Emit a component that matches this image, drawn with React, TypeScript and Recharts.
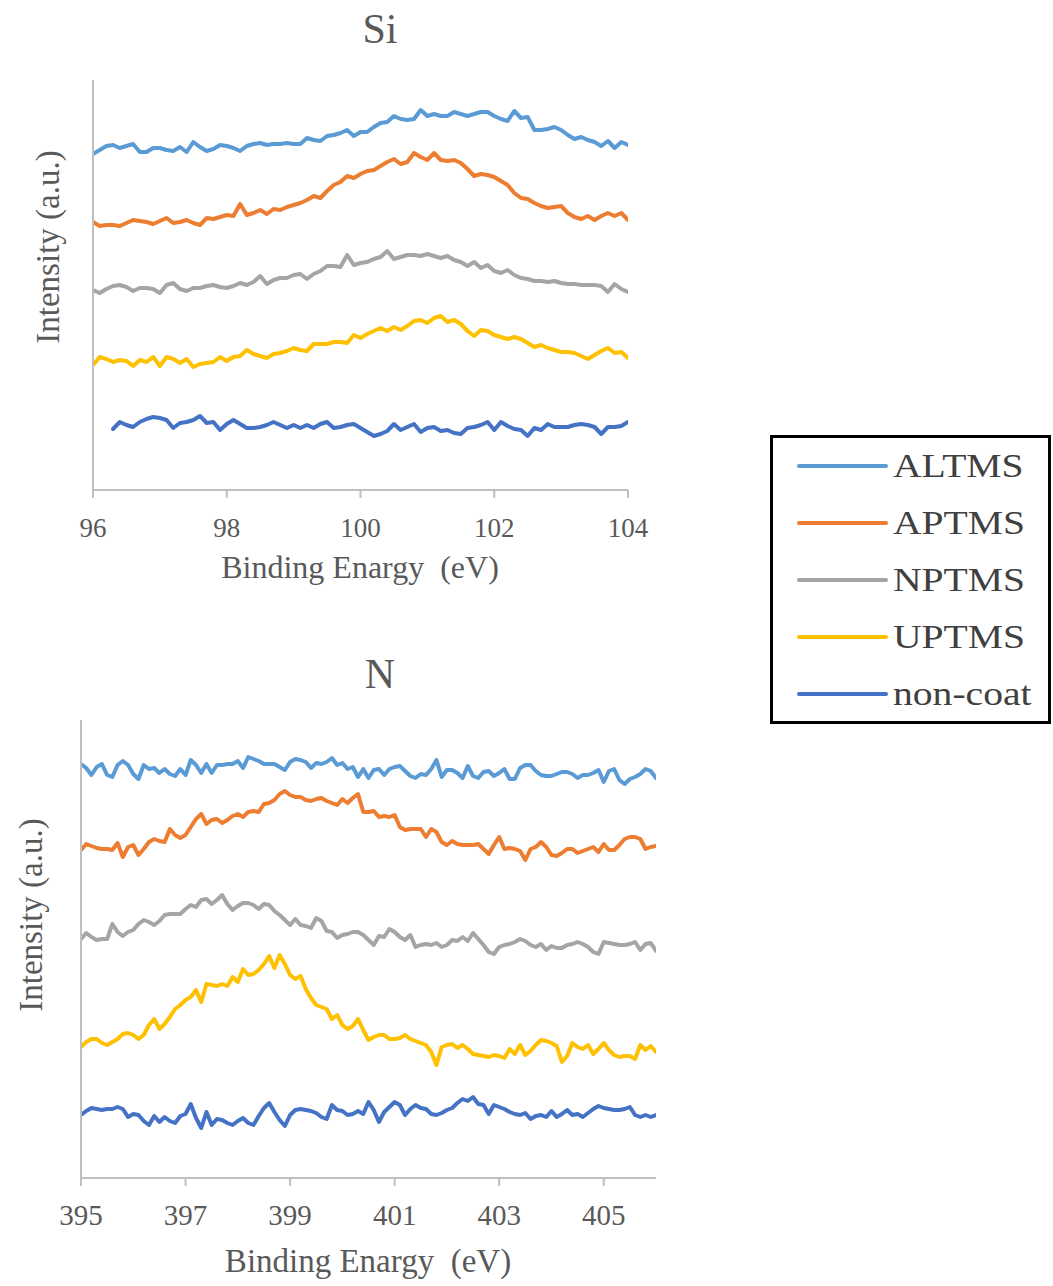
import React from 'react';
import { LineChart, Line, XAxis, YAxis } from 'recharts';

// Si 2p region, sampled every 0.1 eV
const siEnergy = [
  96.0, 96.1, 96.2, 96.3, 96.4, 96.5, 96.6, 96.7, 96.8, 96.9,
  97.0, 97.1, 97.2, 97.3, 97.4, 97.5, 97.6, 97.7, 97.8, 97.9,
  98.0, 98.1, 98.2, 98.3, 98.4, 98.5, 98.6, 98.7, 98.8, 98.9,
  99.0, 99.1, 99.2, 99.3, 99.4, 99.5, 99.6, 99.7, 99.8, 99.9,
  100.0, 100.1, 100.2, 100.3, 100.4, 100.5, 100.6, 100.7, 100.8, 100.9,
  101.0, 101.1, 101.2, 101.3, 101.4, 101.5, 101.6, 101.7, 101.8, 101.9,
  102.0, 102.1, 102.2, 102.3, 102.4, 102.5, 102.6, 102.7, 102.8, 102.9,
  103.0, 103.1, 103.2, 103.3, 103.4, 103.5, 103.6, 103.7, 103.8, 103.9,
  104.0,
];
const siAltms = [
  336, 340, 344, 345, 342, 344, 346, 338, 338, 342,
  342, 340, 339, 343, 338, 348, 343, 339, 341, 345,
  344, 342, 339, 344, 346, 347, 345, 346, 346, 347,
  346, 346, 352, 350, 349, 354, 355, 357, 360, 354,
  358, 358, 363, 367, 368, 374, 371, 370, 371, 380,
  374, 376, 374, 374, 378, 376, 374, 376, 378, 378,
  374, 371, 369, 379, 372, 373, 360, 360, 361, 363,
  360, 355, 351, 353, 350, 348, 344, 349, 342, 348,
  345,
];
const siAptms = [
  268, 264, 265, 265, 264, 267, 270, 269, 268, 266,
  269, 272, 267, 268, 270, 267, 265, 272, 271, 273,
  275, 274, 286, 275, 277, 280, 276, 281, 280, 283,
  285, 287, 290, 294, 292, 299, 305, 308, 314, 312,
  316, 319, 320, 324, 328, 331, 326, 328, 337, 333,
  330, 337, 330, 329, 330, 327, 321, 314, 316, 315,
  313, 309, 305, 297, 292, 291, 287, 284, 282, 283,
  284, 277, 273, 271, 274, 270, 274, 277, 274, 277,
  270,
];
const siNptms = [
  200, 197, 201, 204, 205, 203, 199, 202, 202, 201,
  197, 205, 207, 201, 199, 202, 202, 204, 205, 203,
  202, 204, 207, 205, 208, 214, 206, 210, 212, 212,
  215, 216, 211, 216, 219, 224, 224, 223, 235, 225,
  227, 228, 231, 233, 239, 231, 233, 235, 235, 234,
  236, 234, 232, 234, 230, 228, 224, 228, 222, 225,
  219, 217, 220, 215, 212, 211, 209, 209, 208, 209,
  207, 206, 206, 205, 205, 205, 204, 198, 206, 201,
  198,
];
const siUptms = [
  125, 133, 131, 128, 130, 129, 124, 130, 128, 133,
  124, 133, 131, 127, 131, 123, 126, 127, 128, 133,
  129, 133, 134, 140, 136, 134, 132, 136, 137, 139,
  142, 140, 139, 146, 146, 146, 148, 148, 147, 155,
  152, 156, 159, 162, 159, 163, 160, 164, 169, 170,
  167, 172, 174, 168, 170, 166, 159, 154, 160, 159,
  155, 153, 151, 153, 151, 147, 143, 145, 142, 140,
  138, 138, 137, 134, 131, 135, 139, 142, 137, 138,
  132,
];
const siNoncoat = [
  null, null, null, 61, 68, 65, 63, 68, 71, 73,
  72, 70, 62, 67, 68, 70, 74, 67, 68, 60,
  66, 70, 66, 62, 62, 63, 65, 68, 65, 62,
  65, 62, 65, 62, 66, 68, 62, 63, 65, 66,
  62, 58, 54, 56, 59, 66, 60, 63, 66, 58,
  62, 63, 59, 60, 57, 56, 62, 63, 65, 68,
  60, 68, 64, 61, 60, 54, 62, 60, 66, 63,
  63, 63, 65, 66, 65, 63, 56, 63, 63, 64,
  68,
];
const siTicks = [96, 98, 100, 102, 104];

// N 1s region, sampled every 0.1 eV
const nEnergy = [
  395.0, 395.1, 395.2, 395.3, 395.4, 395.5, 395.6, 395.7, 395.8, 395.9,
  396.0, 396.1, 396.2, 396.3, 396.4, 396.5, 396.6, 396.7, 396.8, 396.9,
  397.0, 397.1, 397.2, 397.3, 397.4, 397.5, 397.6, 397.7, 397.8, 397.9,
  398.0, 398.1, 398.2, 398.3, 398.4, 398.5, 398.6, 398.7, 398.8, 398.9,
  399.0, 399.1, 399.2, 399.3, 399.4, 399.5, 399.6, 399.7, 399.8, 399.9,
  400.0, 400.1, 400.2, 400.3, 400.4, 400.5, 400.6, 400.7, 400.8, 400.9,
  401.0, 401.1, 401.2, 401.3, 401.4, 401.5, 401.6, 401.7, 401.8, 401.9,
  402.0, 402.1, 402.2, 402.3, 402.4, 402.5, 402.6, 402.7, 402.8, 402.9,
  403.0, 403.1, 403.2, 403.3, 403.4, 403.5, 403.6, 403.7, 403.8, 403.9,
  404.0, 404.1, 404.2, 404.3, 404.4, 404.5, 404.6, 404.7, 404.8, 404.9,
  405.0, 405.1, 405.2, 405.3, 405.4, 405.5, 405.6, 405.7, 405.8, 405.9,
  406.0,
];
const nAltms = [
  414, 410, 403, 411, 414, 403, 401, 413, 417, 413,
  404, 399, 413, 409, 410, 405, 409, 404, 402, 409,
  403, 418, 413, 405, 414, 405, 413, 413, 414, 414,
  417, 410, 421, 419, 417, 414, 414, 414, 411, 408,
  416, 419, 418, 416, 410, 415, 414, 416, 420, 413,
  415, 409, 411, 401, 409, 400, 408, 409, 403, 409,
  411, 412, 407, 402, 400, 404, 403, 409, 418, 401,
  408, 408, 405, 400, 412, 402, 400, 406, 407, 402,
  405, 409, 399, 399, 410, 413, 413, 407, 403, 402,
  402, 404, 406, 406, 404, 400, 403, 403, 405, 408,
  396, 407, 409, 398, 394, 399, 401, 404, 409, 407,
  400,
];
const nAptms = [
  328, 334, 332, 330, 329, 329, 328, 335, 321, 331,
  333, 323, 329, 336, 339, 337, 336, 349, 343, 340,
  343, 351, 359, 364, 354, 358, 359, 355, 358, 362,
  364, 361, 366, 367, 366, 374, 375, 378, 384, 387,
  383, 381, 381, 378, 377, 379, 380, 377, 375, 373,
  379, 375, 380, 384, 366, 366, 367, 361, 362, 361,
  363, 351, 348, 349, 349, 349, 341, 349, 346, 336,
  333, 337, 334, 333, 333, 333, 334, 329, 324, 333,
  341, 329, 330, 329, 327, 318, 329, 331, 336, 331,
  323, 322, 325, 329, 329, 325, 327, 329, 331, 326,
  334, 328, 328, 333, 339, 341, 341, 339, 329, 331,
  332,
];
const nNptms = [
  239, 245, 241, 238, 239, 239, 254, 246, 242, 246,
  248, 254, 258, 256, 253, 257, 263, 264, 264, 264,
  269, 273, 271, 278, 279, 274, 278, 283, 274, 268,
  272, 275, 275, 273, 269, 274, 273, 267, 263, 258,
  253, 259, 253, 252, 250, 260, 257, 247, 246, 240,
  243, 244, 246, 246, 243, 238, 233, 242, 241, 249,
  246, 241, 238, 243, 231, 233, 234, 233, 235, 231,
  233, 238, 237, 241, 237, 245, 239, 233, 226, 224,
  231, 233, 234, 236, 239, 237, 233, 231, 234, 228,
  232, 230, 230, 233, 234, 236, 234, 231, 226, 224,
  236, 235, 234, 233, 233, 234, 236, 228, 234, 235,
  227,
];
const nUptms = [
  131, 136, 139, 139, 135, 133, 136, 139, 144, 145,
  143, 139, 143, 153, 159, 149, 154, 161, 169, 173,
  178, 181, 188, 176, 194, 193, 192, 194, 192, 201,
  196, 209, 203, 204, 208, 214, 222, 210, 223, 214,
  203, 199, 202, 189, 180, 173, 171, 169, 159, 163,
  153, 149, 152, 159, 148, 138, 141, 143, 143, 139,
  139, 140, 143, 139, 137, 135, 133, 126, 113, 131,
  133, 134, 130, 133, 129, 124, 123, 122, 121, 123,
  122, 120, 129, 124, 133, 123, 127, 133, 138, 137,
  135, 132, 116, 122, 135, 131, 129, 133, 124, 129,
  135, 128, 123, 121, 122, 122, 119, 133, 128, 132,
  126,
];
const nNoncoat = [
  63, 67, 70, 69, 68, 69, 69, 71, 69, 61,
  64, 63, 57, 53, 62, 56, 61, 57, 55, 62,
  64, 74, 60, 50, 66, 53, 59, 58, 55, 53,
  57, 60, 55, 53, 62, 70, 75, 66, 58, 52,
  63, 68, 69, 68, 67, 65, 61, 59, 73, 68,
  67, 63, 64, 67, 64, 76, 68, 56, 66, 71,
  76, 73, 63, 69, 73, 70, 69, 64, 63, 65,
  68, 70, 75, 79, 77, 81, 74, 73, 64, 73,
  71, 69, 66, 64, 63, 65, 59, 62, 63, 61,
  67, 61, 64, 68, 63, 64, 61, 65, 69, 72,
  70, 69, 68, 68, 69, 71, 63, 61, 63, 61,
  63,
];
const nTicks = [395, 397, 399, 401, 403, 405];

const seriesNames = ['ALTMS', 'APTMS', 'NPTMS', 'UPTMS', 'non-coat'];
const seriesColors = ['#5B9BD5', '#ED7D31', '#A5A5A5', '#FFC000', '#4472C4'];

const siData = siEnergy.map((e, i) => ({
  e,
  ALTMS: siAltms[i],
  APTMS: siAptms[i],
  NPTMS: siNptms[i],
  UPTMS: siUptms[i],
  'non-coat': siNoncoat[i],
}));

const nData = nEnergy.map((e, i) => ({
  e,
  ALTMS: nAltms[i],
  APTMS: nAptms[i],
  NPTMS: nNptms[i],
  UPTMS: nUptms[i],
  'non-coat': nNoncoat[i],
}));

const SERIF = "'Liberation Serif', 'Times New Roman', serif";
const AXIS = '#BFBFBF';
const TEXT = '#595959';

const makeTick = (fontSize: number) => (props: any) => {
  const { x, y, payload } = props;
  return (
    <text
      x={x}
      y={y}
      dy={37}
      textAnchor="middle"
      fontSize={fontSize}
      fontFamily={SERIF}
      fill={TEXT}
    >
      {payload.value}
    </text>
  );
};

const siTick = makeTick(27);
const nTick = makeTick(29);

const Spectrum = ({ data, domain, ticks, yMax, width, height, margin, tick }: any) => (
  <LineChart width={width} height={height} data={data} margin={margin}>
    <XAxis
      type="number"
      dataKey="e"
      domain={domain}
      ticks={ticks}
      interval={0}
      allowDataOverflow
      height={60}
      tickSize={8}
      axisLine={{ stroke: AXIS, strokeWidth: 2 }}
      tickLine={{ stroke: AXIS, strokeWidth: 2 }}
      tick={tick}
    />
    <YAxis
      type="number"
      domain={[0, yMax]}
      width={60}
      tick={false}
      tickLine={false}
      axisLine={{ stroke: AXIS, strokeWidth: 2 }}
    />
    {seriesNames.map((name, i) => (
      <Line
        key={name}
        type="linear"
        dataKey={name}
        stroke={seriesColors[i]}
        strokeWidth={4}
        strokeLinejoin="round"
        strokeLinecap="round"
        dot={false}
        activeDot={false}
        isAnimationActive={false}
      />
    ))}
  </LineChart>
);

const Label = ({ x, y, size, children, rotate }: any) => (
  <div
    style={{
      position: 'absolute',
      left: x,
      top: y,
      transform: `translate(-50%, -50%)${rotate ? ' rotate(-90deg)' : ''}`,
      fontFamily: SERIF,
      fontSize: size,
      color: TEXT,
      whiteSpace: 'pre',
      lineHeight: 1,
    }}
  >
    {children}
  </div>
);

const legendRows = [466, 523, 580, 637, 694];

export default function App() {
  return (
    <div style={{ position: 'absolute', left: 0, top: 0, width: 1053, height: 1286, background: '#fff' }}>
      <div style={{ position: 'absolute', left: 0, top: 0 }}>
        <Spectrum
          data={siData}
          domain={[96, 104]}
          ticks={siTicks}
          yMax={410}
          width={680}
          height={610}
          margin={{ top: 80, right: 52, bottom: 60, left: 33 }}
          tick={siTick}
        />
      </div>
      <div style={{ position: 'absolute', left: 0, top: 642 }}>
        <Spectrum
          data={nData}
          domain={[395, 406]}
          ticks={nTicks}
          yMax={458}
          width={700}
          height={644}
          margin={{ top: 78, right: 44, bottom: 48, left: 21 }}
          tick={nTick}
        />
      </div>

      <Label x={380} y={29} size={42}>Si</Label>
      <Label x={380} y={674} size={42}>N</Label>
      <Label x={360} y={567} size={32}>Binding Enargy  (eV)</Label>
      <Label x={368} y={1261} size={33}>Binding Enargy  (eV)</Label>
      <Label x={48} y={247} size={33} rotate>Intensity (a.u.)</Label>
      <Label x={31} y={915} size={33} rotate>Intensity (a.u.)</Label>

      <div
        style={{
          position: 'absolute',
          left: 770,
          top: 435,
          width: 281,
          height: 289,
          border: '3px solid #000',
          boxSizing: 'border-box',
        }}
      >
        {seriesNames.map((name, i) => (
          <React.Fragment key={name}>
            <div
              style={{
                position: 'absolute',
                left: 24,
                top: legendRows[i] - 438 - 2,
                width: 91,
                height: 4,
                borderRadius: 2,
                background: seriesColors[i],
              }}
            />
            <div
              style={{
                position: 'absolute',
                left: 120,
                top: legendRows[i] - 438,
                transform: 'translateY(-50%) scaleX(1.2)',
                transformOrigin: 'left center',
                fontFamily: SERIF,
                fontSize: 33,
                lineHeight: 1,
                color: '#404040',
                whiteSpace: 'nowrap',
              }}
            >
              {name}
            </div>
          </React.Fragment>
        ))}
      </div>
    </div>
  );
}
